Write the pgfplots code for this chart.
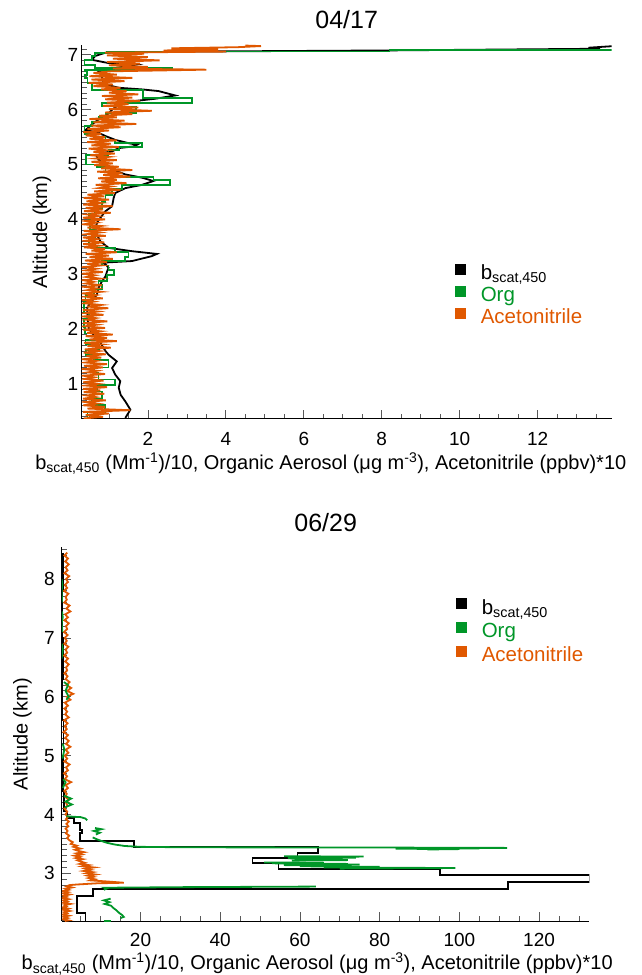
\documentclass[border=0pt]{standalone}
\usepackage{fontspec}
\setmainfont{Liberation Sans}
\usepackage{pgfplots}
\pgfplotsset{compat=1.18}
\definecolor{orgGreen}{RGB}{0,150,40}
\definecolor{acnOrange}{RGB}{224,88,0}
\pgfplotsset{
  myaxis/.style={
    scale only axis,
    axis lines*=left,
    axis line style={black, line width=1pt},
    tick align=inside,
    tick style={black!65, line width=0.8pt},
    major tick length=9pt,
    minor tick length=5pt,
    /pgf/number format/assume math mode=true,
    tick label style={font=\fontsize{19}{22}\selectfont},
    xticklabel style={anchor=base},
    yticklabel style={anchor=east, inner sep=0pt},
    label style={font=\fontsize{20}{24}\selectfont},
    ylabel={Altitude (km)},
    ylabel style={at={(axis description cs:-0.075,0.5)}, anchor=center, rotate=0},
    title style={font=\fontsize{25}{30}\selectfont, at={(axis description cs:0.5,1)}, anchor=base, yshift=10pt},
    legend image code/.code={\fill (0pt,1.5pt) rectangle (9pt,10.5pt);},
    legend cell align=left,
    legend style={draw=none, fill=none, font=\fontsize{20.5}{24}\selectfont,
      inner sep=0pt, outer sep=0pt, column sep=14pt, row sep=0pt},
  },
  pl/.style={line width=1.8pt},
}
\begin{document}
\begin{tikzpicture}
\useasboundingbox (0pt,0pt) rectangle (641pt,975pt);
% ---------------- top panel 04/17 ----------------
\begin{axis}[myaxis,
  at={(81.7pt,556pt)}, anchor=south west,
  width=530pt, height=374pt,
  xmin=0.3, xmax=13.9, ymin=0.36, ymax=7.18,
  xtick={2,4,...,12}, minor xtick={0.5,1,...,13.5},
  ytick={1,...,7}, minor ytick={0.4,0.5,...,7.15},
  xticklabel style={yshift=-27pt},
  yticklabel style={xshift=-3.4pt},
  title={04/17},
  xlabel={b\textsubscript{scat,450} (Mm\textsuperscript{-1})/10, Organic Aerosol (μg m\textsuperscript{-3}), Acetonitrile (ppbv)*10},
  xlabel style={at={(axis description cs:0.47,-0.136)}, anchor=base},
  legend style={at={(axis description cs:0.7043,0.4144)}, anchor=north west,
    nodes={inner sep=1pt, text height=14pt, text depth=5.5pt}},
]
\addplot[pl, color=black] coordinates {
(1.42,0.38)(1.55,0.53)(1.42,0.68)(1.30,0.80)(1.25,0.93)(1.29,1.05)(1.16,1.17)(1.08,1.29)(1.20,1.41)(0.99,1.53)(0.91,1.60)(0.78,1.75)(0.65,1.84)(0.55,1.95)(0.48,2.02)(0.45,2.20)(0.44,2.39)(0.56,2.51)(0.69,2.63)(0.73,2.75)(0.82,2.87)(0.91,2.96)(0.95,3.05)(0.99,3.12)(0.91,3.18)(0.82,3.21)(1.59,3.24)(2.10,3.33)(2.23,3.37)(1.59,3.42)(0.99,3.48)(0.78,3.60)(0.69,3.72)(0.65,3.84)(0.70,3.95)(0.78,4.03)(0.91,4.15)(1.08,4.24)(1.12,4.39)(1.16,4.48)(1.42,4.57)(1.85,4.63)(2.14,4.70)(1.85,4.76)(1.42,4.82)(1.08,4.91)(0.91,5.00)(0.73,5.09)(0.69,5.15)(0.82,5.21)(1.08,5.24)(1.25,5.30)(1.63,5.33)(1.72,5.36)(1.50,5.39)(1.16,5.45)(0.91,5.52)(0.73,5.58)(0.40,5.63)(0.56,5.73)(0.73,5.82)(0.91,5.88)(1.08,6.00)(1.25,6.09)(1.68,6.16)(2.19,6.20)(2.70,6.26)(2.27,6.34)(1.85,6.37)(1.25,6.40)(0.91,6.46)(0.82,6.55)(0.82,6.64)(0.73,6.70)(1.16,6.76)(1.68,6.82)(0.99,6.85)(0.56,6.91)(0.65,6.98)(0.91,7.04)(3.00,7.06)(8.00,7.08)(13.30,7.11)(13.60,7.12)(13.30,7.13)(13.95,7.16)
};
\addlegendentry{b\textsubscript{scat,450}}
\addplot[pl, color=orgGreen] coordinates {
(0.45,0.36)(0.45,0.48)(0.90,0.48)(0.90,0.62)(0.55,0.62)(0.55,0.72)(0.82,0.72)(0.82,0.86)(0.70,0.86)(0.70,0.98)(1.16,0.98)(1.16,1.08)(0.73,1.08)(0.73,1.20)(0.62,1.20)(0.62,1.30)(0.99,1.30)(0.99,1.44)(0.62,1.44)(0.62,1.52)(0.40,1.52)(0.40,1.62)(0.75,1.62)(0.75,1.72)(0.40,1.72)(0.40,1.80)(0.75,1.80)(0.75,1.92)(0.38,1.92)(0.38,2.04)(0.36,2.04)(0.36,2.18)(0.48,2.18)(0.48,2.30)(0.36,2.30)(0.36,2.50)(0.40,2.50)(0.40,2.62)(0.62,2.62)(0.62,2.72)(0.82,2.72)(0.82,2.80)(0.73,2.80)(0.73,2.88)(0.95,2.88)(0.95,2.98)(1.12,2.98)(1.12,3.08)(0.99,3.08)(0.99,3.16)(0.82,3.16)(0.82,3.24)(1.42,3.24)(1.42,3.32)(1.50,3.32)(1.50,3.40)(1.16,3.40)(1.16,3.48)(0.65,3.48)(0.65,3.56)(0.48,3.56)(0.48,3.68)(0.65,3.68)(0.65,3.80)(0.52,3.80)(0.52,3.92)(0.56,3.92)(0.56,4.00)(0.48,4.00)(0.48,4.10)(0.65,4.10)(0.65,4.20)(0.82,4.20)(0.82,4.32)(0.91,4.32)(0.91,4.44)(1.08,4.44)(1.08,4.56)(1.33,4.56)(1.33,4.62)(2.57,4.62)(2.57,4.72)(2.14,4.72)(2.14,4.78)(1.08,4.78)(1.08,4.86)(0.91,4.86)(0.91,4.95)(0.69,4.95)(0.69,5.00)(0.42,5.00)(0.42,5.18)(0.99,5.18)(0.99,5.27)(1.25,5.27)(1.25,5.32)(1.85,5.32)(1.85,5.40)(1.16,5.40)(1.16,5.44)(0.91,5.44)(0.91,5.50)(0.65,5.50)(0.65,5.56)(0.37,5.56)(0.37,5.70)(0.56,5.70)(0.56,5.78)(0.73,5.78)(0.73,5.86)(0.91,5.86)(0.91,5.94)(1.70,5.94)(1.70,6.06)(0.82,6.06)(0.82,6.12)(3.13,6.12)(3.13,6.21)(1.88,6.21)(1.88,6.36)(0.56,6.36)(0.56,6.48)(0.45,6.48)(0.45,6.58)(0.37,6.58)(0.37,6.64)(0.44,6.64)(0.44,6.70)(0.37,6.70)(0.37,6.72)(2.63,6.72)(2.63,6.76)(0.65,6.76)(0.65,6.82)(0.37,6.82)(0.37,6.90)(0.56,6.90)(0.56,6.98)(0.65,6.98)(0.65,7.03)(0.95,7.03)(0.95,7.06)(8.2,7.06)(8.2,7.085)(15,7.085)
};
\addlegendentry{\textcolor{orgGreen}{Org}}
\addplot[pl, color=acnOrange] table {
0.35 0.37
0.85 0.40
0.40 0.43
1.00 0.46
0.33 0.49
1.55 0.52
0.45 0.55
0.90 0.58
0.34 0.61
0.70 0.64
0.38 0.67
0.92 0.70
0.33 0.73
0.66 0.76
0.42 0.79
0.88 0.82
0.35 0.85
0.78 0.88
0.33 0.91
0.95 0.94
0.40 0.97
0.72 1.00
0.34 1.03
0.86 1.06
0.38 1.09
0.62 1.12
0.33 1.15
0.90 1.18
0.45 1.21
0.70 1.24
0.34 1.27
0.84 1.30
0.36 1.33
0.95 1.36
0.40 1.39
0.68 1.42
0.33 1.45
0.80 1.48
0.42 1.51
0.92 1.54
0.35 1.57
0.74 1.60
0.38 1.63
1.05 1.66
0.45 1.69
0.82 1.72
0.36 1.75
1.20 1.78
0.50 1.81
0.95 1.84
0.40 1.87
1.10 1.90
0.44 1.93
0.78 1.96
0.34 1.99
0.90 2.02
0.38 2.05
0.70 2.08
0.33 2.11
0.96 2.14
0.42 2.17
0.66 2.20
0.34 2.23
0.86 2.26
0.40 2.29
0.72 2.32
0.33 2.35
0.98 2.38
0.44 2.41
0.80 2.44
0.36 2.47
0.62 2.50
0.34 2.53
0.84 2.56
0.40 2.59
0.66 2.62
0.33 2.65
0.80 2.68
0.45 2.71
0.70 2.74
0.36 2.77
0.82 2.80
0.40 2.83
0.60 2.86
0.34 2.89
0.78 2.92
0.42 2.95
0.64 2.98
0.33 3.01
0.84 3.04
0.40 3.07
0.68 3.10
0.35 3.13
0.80 3.16
0.44 3.19
0.95 3.22
0.38 3.25
1.10 3.28
0.50 3.31
1.00 3.34
0.40 3.37
1.20 3.40
0.55 3.43
0.90 3.46
0.36 3.49
0.75 3.52
0.34 3.55
0.88 3.58
0.40 3.61
0.70 3.64
0.33 3.67
0.92 3.70
0.42 3.73
0.76 3.76
0.35 3.79
1.30 3.82
0.45 3.85
0.80 3.88
0.34 3.91
0.68 3.94
0.40 3.97
0.90 4.00
0.33 4.03
0.72 4.06
0.44 4.09
1.05 4.12
0.36 4.15
0.85 4.18
0.40 4.21
1.10 4.24
0.34 4.27
0.78 4.30
0.42 4.33
1.00 4.36
0.35 4.39
0.88 4.42
0.45 4.45
1.15 4.48
0.62 4.51
1.30 4.54
0.75 4.57
1.05 4.60
0.66 4.63
1.45 4.66
0.80 4.69
1.20 4.72
0.72 4.75
1.55 4.78
0.85 4.81
1.35 4.84
0.70 4.87
1.60 4.90
0.80 4.93
1.25 4.96
0.62 4.99
1.10 5.02
0.55 5.05
1.20 5.08
0.66 5.11
1.00 5.14
0.52 5.17
1.15 5.20
0.60 5.23
0.95 5.26
0.48 5.29
1.25 5.32
0.55 5.35
1.05 5.38
0.44 5.41
1.20 5.44
0.50 5.47
0.90 5.50
0.40 5.53
0.80 5.56
0.34 5.59
1.00 5.62
0.45 5.65
1.30 5.68
0.55 5.71
1.70 5.74
0.60 5.77
1.40 5.80
0.50 5.83
1.20 5.86
0.75 5.89
1.60 5.92
0.90 5.95
2.10 5.98
1.00 6.01
1.75 6.04
0.85 6.07
1.50 6.10
0.95 6.13
1.80 6.16
0.90 6.19
1.60 6.22
0.82 6.25
1.75 6.28
1.00 6.31
1.45 6.34
0.80 6.37
1.30 6.40
0.60 6.43
1.10 6.46
0.48 6.49
1.40 6.52
0.55 6.55
1.60 6.58
0.50 6.61
1.20 6.64
0.60 6.67
1.05 6.70
3.50 6.73
1.10 6.75
2.00 6.78
1.00 6.81
1.80 6.84
0.95 6.87
2.30 6.90
1.10 6.93
2.00 6.96
0.95 6.99
1.90 7.02
0.90 7.04
4.00 7.06
2.40 7.08
3.80 7.10
2.60 7.12
4.30 7.14
4.90 7.16
4.50 7.17
};
\addlegendentry{\textcolor{acnOrange}{Acetonitrile}}
\end{axis}
% ---------------- bottom panel 06/29 ----------------
\begin{axis}[myaxis,
  at={(62pt,54pt)}, anchor=south west,
  width=527.3pt, height=373.7pt,
  xmin=0.3, xmax=132.6, ymin=2.19, ymax=8.54,
  xtick={20,40,...,120}, minor xtick={5,10,...,130},
  ytick={3,...,8}, minor ytick={2.2,2.3,...,8.5},
  xticklabel style={yshift=-25.7pt},
  yticklabel style={xshift=-7pt},
  title={06/29},
  xlabel={b\textsubscript{scat,450} (Mm\textsuperscript{-1})/10, Organic Aerosol (μg m\textsuperscript{-3}), Acetonitrile (ppbv)*10},
  xlabel style={at={(axis description cs:0.484,-0.131)}, anchor=base},
  legend style={at={(axis description cs:0.7472,0.8643)}, anchor=north west,
    nodes={inner sep=1pt, text height=15pt, text depth=6.7pt}},
]
\addplot[pl, color=black] coordinates {
(0.5,8.45)(0.5,7.8)(0.4,7.8)(0.4,7.0)(0.6,7.0)(0.6,6.3)(0.4,6.3)(0.4,5.6)(0.7,5.6)(0.7,5.0)(0.5,5.0)(0.5,4.4)(0.8,4.4)(0.8,4.05)(1.5,4.05)(1.5,3.94)(3.4,3.94)(3.4,3.85)(4.8,3.85)(4.8,3.74)(5.4,3.74)(5.4,3.68)(4.8,3.68)(4.8,3.545)(18.4,3.545)(18.4,3.445)(64.6,3.445)(64.6,3.34)(59.4,3.34)(59.4,3.26)(48.1,3.26)(48.1,3.17)(54.6,3.17)(54.6,3.07)(95.2,3.07)(95.2,2.97)(132.8,2.97)(132.8,2.85)(112.3,2.85)(112.3,2.74)(8.1,2.74)(8.1,2.61)(4.1,2.61)(4.1,2.32)(6.2,2.32)(6.2,2.15)
};
\addlegendentry{b\textsubscript{scat,450}}
\addplot[pl, color=orgGreen] coordinates {
(8.0,3.61)(9.0,3.58)(10.2,3.55)(11.5,3.52)(13.5,3.49)(16,3.465)(20,3.45)(30,3.443)(45,3.441)(68,3.44)(80,3.438)(112,3.432)(90,3.428)(105,3.422)(84,3.418)(100,3.412)(92,3.405)
};
\addlegendentry{\textcolor{orgGreen}{Org}}
\addplot[pl, color=acnOrange] table {
1.6 8.45
0.9 8.40
1.8 8.35
1.1 8.30
2.0 8.25
1.2 8.20
1.7 8.15
0.9 8.10
2.1 8.05
1.3 8.00
1.8 7.95
1.0 7.90
1.6 7.85
0.8 7.80
1.9 7.75
1.2 7.70
1.5 7.65
0.9 7.60
2.2 7.55
1.4 7.50
2.4 7.45
1.1 7.40
1.8 7.35
0.9 7.30
2.0 7.25
1.3 7.20
1.6 7.15
0.8 7.10
1.7 7.05
1.0 7.00
1.5 6.95
0.9 6.90
1.9 6.85
1.2 6.80
1.6 6.75
0.8 6.70
1.8 6.65
1.1 6.60
2.0 6.55
1.3 6.50
1.6 6.45
0.9 6.40
1.7 6.35
1.2 6.30
2.2 6.25
1.4 6.20
2.6 6.15
1.6 6.10
3.1 6.05
1.5 6.00
2.4 5.95
1.0 5.90
1.8 5.85
0.9 5.80
1.6 5.75
1.1 5.70
2.0 5.65
0.8 5.60
1.7 5.55
1.0 5.50
1.5 5.45
0.7 5.40
1.8 5.35
1.1 5.30
2.0 5.25
1.3 5.20
2.4 5.15
1.2 5.10
1.9 5.05
1.0 5.00
1.6 4.95
0.9 4.90
2.2 4.85
1.3 4.80
1.8 4.75
0.8 4.70
1.6 4.65
1.0 4.60
2.6 4.55
1.2 4.50
1.8 4.45
0.9 4.40
1.5 4.35
1.1 4.30
2.0 4.25
1.3 4.20
1.7 4.15
0.9 4.10
1.6 4.05
1.2 4.00
1.8 3.96
1.3 3.92
2.0 3.88
1.4 3.84
1.9 3.80
1.2 3.76
1.7 3.72
1.3 3.68
2.1 3.64
1.6 3.60
2.2 3.56
3.0 3.53
2.5 3.50
4.0 3.47
3.2 3.45
4.9 3.42
3.6 3.40
4.5 3.38
5.8 3.36
4.0 3.34
5.2 3.32
3.5 3.30
4.8 3.28
3.8 3.26
5.5 3.24
4.2 3.22
5.0 3.20
6.0 3.18
4.8 3.16
7.0 3.14
5.5 3.12
8.3 3.10
6.2 3.08
7.5 3.06
5.8 3.04
8.0 3.02
6.5 3.00
8.7 2.98
6.8 2.96
8.2 2.94
7.0 2.92
8.5 2.90
7.5 2.88
12.0 2.86
15.8 2.84
9.0 2.83
4.0 2.81
2.2 2.80
1.5 2.78
2.8 2.76
1.2 2.74
2.0 2.72
0.6 2.70
1.8 2.68
0.5 2.66
2.2 2.64
0.8 2.62
1.5 2.60
0.4 2.58
2.0 2.56
0.7 2.54
1.6 2.52
0.5 2.50
2.4 2.48
0.9 2.46
1.4 2.44
0.4 2.42
1.9 2.40
0.6 2.38
2.2 2.36
0.8 2.34
1.5 2.32
0.4 2.30
2.0 2.28
0.7 2.26
1.7 2.24
0.5 2.22
1.9 2.20
1.0 2.19
};
\addlegendentry{\textcolor{acnOrange}{Acetonitrile}}
\addplot[pl, color=orgGreen, forget plot] coordinates {(0.2,8.0)(0.4,7.9)(0.2,7.8)(0.3,7.65)(0.2,7.6)};
\addplot[pl, color=orgGreen, forget plot] coordinates {(0.3,7.45)(0.5,7.35)(0.2,7.25)(0.4,7.1)};
\addplot[pl, color=orgGreen, forget plot] coordinates {(0.3,6.9)(0.5,6.8)(0.2,6.65)};
\addplot[pl, color=orgGreen, forget plot] coordinates {(0.8,6.25)(1.8,6.2)(1.2,6.1)(2.0,6.0)(1.4,5.95)};
\addplot[pl, color=orgGreen, forget plot] coordinates {(0.5,5.2)(0.9,5.1)(0.4,4.95)};
\addplot[pl, color=orgGreen, forget plot] coordinates {(0.6,4.6)(1.2,4.55)(0.5,4.45)};
\addplot[pl, color=orgGreen, forget plot] coordinates {(0.8,4.32)(2.6,4.27)(1.2,4.22)(2.8,4.17)(1.0,4.12)};
\addplot[pl, color=orgGreen, forget plot] coordinates {(1.4,3.97)(3.5,3.96)(5.0,3.955)(6.2,3.93)(6.6,3.90)};
\addplot[pl, color=orgGreen, forget plot] coordinates {(8.6,3.77)(10.2,3.75)(8.3,3.72)(9.8,3.69)(8.8,3.66)};
\addplot[pl, color=orgGreen, forget plot] coordinates {(56,3.29)(76,3.285)(60,3.275)(74,3.265)(57,3.255)(70,3.245)(62,3.235)(72,3.225)(58,3.215)};
\addplot[pl, color=orgGreen, forget plot] coordinates {(51,3.185)(66,3.18)(53,3.17)(72,3.16)(58,3.155)(75,3.15)(56,3.14)(68,3.13)(60,3.12)(80,3.11)(66,3.10)(99,3.09)(70,3.08)};
\addplot[pl, color=orgGreen, forget plot] coordinates {(64,2.775)(30,2.765)(11,2.755)(11.5,2.74)(10.8,2.72)};
\addplot[pl, color=orgGreen, forget plot] coordinates {(12.5,2.57)(10.8,2.54)(12.2,2.51)(11.0,2.48)(12.6,2.45)(13.2,2.41)(14.0,2.37)(14.6,2.33)(15.4,2.29)(15.8,2.26)(15.0,2.24)};
\addplot[pl, color=orgGreen, forget plot] coordinates {(10.8,2.195)(12.6,2.195)};
\end{axis}
\end{tikzpicture}
\end{document}
